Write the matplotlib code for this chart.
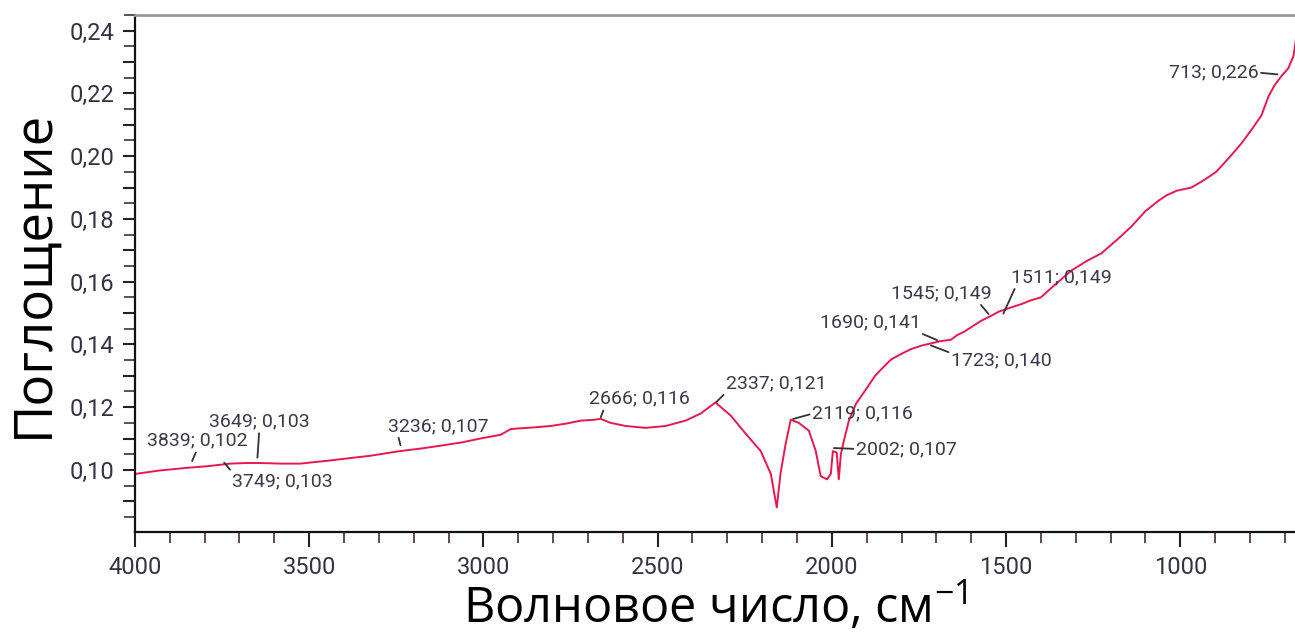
import numpy as np
import matplotlib.pyplot as plt
from matplotlib.ticker import MultipleLocator, FuncFormatter

plt.rcParams['font.family'] = ['Roboto', 'DejaVu Sans']
plt.rcParams['mathtext.fontset'] = 'custom'
plt.rcParams['mathtext.rm'] = 'Open Sans'

# spectrum (wavenumber, absorbance)
wn = [4000, 3930, 3856, 3790, 3727, 3680, 3641, 3580, 3526, 3440, 3380, 3325,
      3239, 3180, 3124, 3060, 3009, 2950, 2922, 2902, 2860, 2807, 2760, 2721,
      2680, 2664, 2635, 2592, 2534, 2477, 2420, 2376, 2334, 2290, 2247, 2204,
      2175, 2158, 2147, 2133, 2118, 2095, 2066, 2046, 2032, 2014, 2003, 1997,
      1986, 1980, 1974, 1966, 1951, 1931, 1925, 1900, 1876, 1850, 1830, 1800,
      1773, 1740, 1716, 1690, 1658, 1640, 1621, 1600, 1572, 1545, 1520, 1506,
      1480, 1457, 1430, 1400, 1360, 1313, 1270, 1227, 1180, 1141, 1100, 1060,
      1040, 1010, 968, 930, 897, 860, 825, 795, 767, 747, 730, 710, 690, 675,
      667]
ab = [0.0987, 0.0998, 0.1006, 0.1012, 0.1020, 0.1022, 0.1022, 0.1020, 0.1020,
      0.1030, 0.1038, 0.1045, 0.1060, 0.1068, 0.1077, 0.1088, 0.1100, 0.1112,
      0.1130, 0.1132, 0.1135, 0.1140, 0.1148, 0.1157, 0.1160, 0.1163, 0.1150,
      0.1140, 0.1134, 0.1140, 0.1157, 0.1180, 0.1215, 0.1173, 0.1115, 0.1060,
      0.0987, 0.0880, 0.0990, 0.1080, 0.1160, 0.1150, 0.1125, 0.1060, 0.0980,
      0.0970, 0.0987, 0.1060, 0.1055, 0.0970, 0.1050, 0.1090, 0.1157, 0.1210,
      0.1220, 0.1260, 0.1300, 0.1330, 0.1352, 0.1370, 0.1385, 0.1397, 0.1403,
      0.1410, 0.1415, 0.1430, 0.1440, 0.1455, 0.1475, 0.1490, 0.1505, 0.1510,
      0.1520, 0.1528, 0.1540, 0.1550, 0.1590, 0.1635, 0.1665, 0.1690, 0.1735,
      0.1775, 0.1825, 0.1860, 0.1875, 0.1890, 0.1900, 0.1925, 0.1950, 0.1995,
      0.2040, 0.2085, 0.2130, 0.2190, 0.2225, 0.2255, 0.2280, 0.2320, 0.2380]

# peak labels
pk_wn = [3839, 3749, 3649, 3236, 2666, 2337, 2119, 2002, 1723, 1690, 1545, 1511, 713]
pk_ab = [0.102, 0.103, 0.103, 0.107, 0.116, 0.121, 0.116, 0.107, 0.140, 0.141, 0.149, 0.149, 0.226]
# text offsets in pixels, alignment, where the leader starts on the text
pk_off = [(6, 23), (10, -21), (2, 39), (37, 22), (40, 21), (12, 21), (22, 6),
          (25, -1), (23, -16), (-69, 19), (-49, 23), (59, 39), (-22, 2)]
pk_ha = ['center', 'left', 'center', 'center', 'center', 'left', 'left',
         'left', 'left', 'center', 'center', 'center', 'right']
pk_rel = [(0.5, 0), (0, 1), (0.5, 0), (0.1, 0), (0.15, 0), (0, 0), (0, 0.5),
          (0, 0.5), (0, 0.9), (0.95, 0), (0.87, 0), (0.05, 0), (1, 0.5)]

fig = plt.figure(figsize=(12.95, 6.36), dpi=100)
ax = fig.add_axes([0.1042, 0.1635, 0.8968, 0.8129])

ax.plot(wn, ab, color='#e8184d', lw=1.4)

for w, a, off, ha, rel in zip(pk_wn, pk_ab, pk_off, pk_ha, pk_rel):
    lab = f'{w}; {a:.3f}'.replace('.', ',')
    ax.annotate(lab, xy=(w, a), xytext=off, textcoords='offset pixels',
                ha=ha, va='center', fontsize=14, color='#3a3a4a',
                arrowprops=dict(arrowstyle='-', color='#333333', lw=1.3,
                                relpos=rel, shrinkA=0, shrinkB=2))

ax.set_xlim(4000, 667)
ax.set_ylim(0.0802, 0.245)

ax.xaxis.set_major_locator(MultipleLocator(500))
ax.xaxis.set_minor_locator(MultipleLocator(100))
ax.yaxis.set_major_locator(MultipleLocator(0.01))
ax.yaxis.set_minor_locator(MultipleLocator(0.005))
ax.yaxis.set_major_formatter(FuncFormatter(
    lambda v, p: f'{v:.2f}'.replace('.', ',') if round(v * 100) % 2 == 0 else ''))

ax.tick_params(axis='both', which='major', direction='out', width=1.5,
               color='#222222', labelsize=17, labelcolor='#333344')
ax.tick_params(axis='x', which='major', length=11, pad=6)
ax.tick_params(axis='y', which='major', length=9, pad=6)
ax.tick_params(axis='both', which='minor', direction='out', length=8,
               width=1.3, color='#5a3a4a')

for s in ['left', 'bottom']:
    ax.spines[s].set_linewidth(1.6)
    ax.spines[s].set_color('#111111')
ax.spines['top'].set_color('#999999')
ax.spines['top'].set_linewidth(2.0)
ax.spines['right'].set_visible(False)

ax.set_ylabel('Поглощение', fontsize=38, family=['Open Sans', 'DejaVu Sans'],
              labelpad=6)
ax.set_xlabel('Волновое число, см$^{-1}$', fontsize=35,
              family=['Open Sans', 'DejaVu Sans'], labelpad=2)

fig.savefig('out.png', dpi=100)
